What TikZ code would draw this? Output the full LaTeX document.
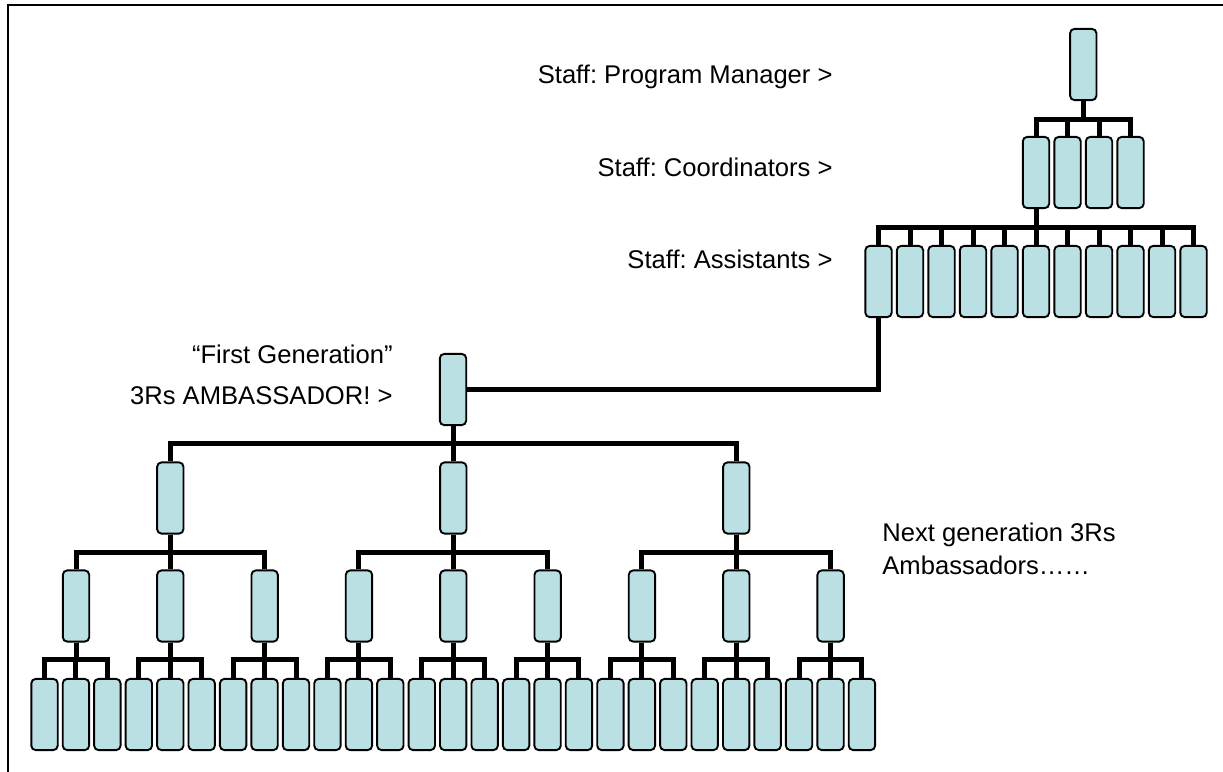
\documentclass[tikz,border=0pt]{standalone}
\usepackage{fontspec}
\setmainfont{Liberation Sans}
\usetikzlibrary{positioning}
\frenchspacing

\definecolor{boxfill}{RGB}{187,224,227}

\tikzset{
  member/.style={draw, fill=boxfill, rounded corners=2.2pt, line width=0.95pt,
    minimum width=13.2pt, minimum height=35.6pt, inner sep=0pt},
  link/.style={line width=2.5pt},
  lbl/.style={font=\fontsize{12.8pt}{15pt}\selectfont, inner sep=0pt}
}

\begin{document}
\begin{tikzpicture}[x=0.5pt,y=-0.5pt]
\useasboundingbox (0,0) rectangle (1223,772);

% frame
\draw[line width=1pt] (7.5,772) -- (7.5,4.5) -- (1223,4.5);

% staff
\node[member] (pm) at (1083.25,64.5) {};
\foreach \i in {0,...,3}
  \node[member] (co-\i) at (1036+31.5*\i,172.5) {};
\foreach \i in {0,...,10}
  \node[member] (as-\i) at (878.5+31.5*\i,281.5) {};

% ambassadors, generation by generation
\node[member] (fg) at (453,389.5) {};
\foreach \k in {0,1,2}
  \node[member] (g2-\k) at (170.3+283*\k,498) {};
\foreach \j in {0,...,8}
  \node[member] (g3-\j) at (76+94.33*\j,606) {};
\foreach \i in {0,...,26}
  \node[member] (g4-\i) at (44.5+31.44*\i,714.5) {};

% links
\foreach \i in {0,...,3}
  \draw[link] (pm.south) -- ++(0,18) -| (co-\i.north);
\foreach \i in {0,...,10}
  \draw[link] (co-0.south) -- ++(0,18.5) -| (as-\i.north);
\draw[link] (as-0.south) |- (fg.east);
\foreach \k in {0,1,2}
  \draw[link] (fg.south) -- ++(0,17) -| (g2-\k.north);
\foreach \j in {0,...,8} {
  \pgfmathtruncatemacro\p{int(\j/3)}
  \draw[link] (g2-\p.south) -- ++(0,18) -| (g3-\j.north);
}
\foreach \i in {0,...,26} {
  \pgfmathtruncatemacro\p{int(\i/3)}
  \draw[link] (g3-\p.south) -- ++(0,17) -| (g4-\i.north);
}

% labels
\node[lbl, anchor=base east] (pm-txt) at (833,83) {Staff: Program Manager >};
\node[lbl, anchor=base east] (co-txt) at (833,176) {Staff: Coordinators >};
\node[lbl, anchor=base east] (as-txt) at (833,268) {Staff: Assistants >};
\node[lbl, anchor=base east] (fg-txt1) at (393,363) {“First Generation”};
\node[lbl, anchor=base east] (fg-txt2) at (393,404) {3Rs AMBASSADOR! >};
\node[lbl, anchor=base west] (next-txt1) at (882,541) {Next generation 3Rs};
\node[lbl, anchor=base west] (next-txt2) at (882,574) {Ambassadors……};

\end{tikzpicture}
\end{document}
